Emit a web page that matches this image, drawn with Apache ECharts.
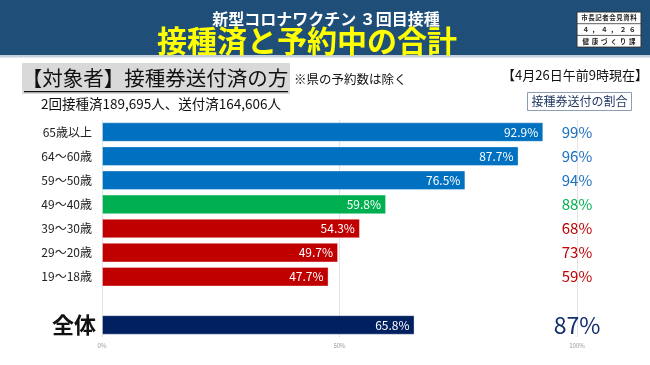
<!DOCTYPE html>
<html><head><meta charset="utf-8">
<script src="https://cdn.jsdelivr.net/npm/echarts@6/dist/echarts.min.js"></script>
<style>html,body{margin:0;padding:0;background:#fff}#c{width:650px;height:365px}</style>
</head><body><div id="c"></div>
<script>
// ---- data ----
var categories = ['65歳以上','64～60歳','59～50歳','49～40歳','39～30歳','29～20歳','19～18歳','','全体'];
var rates = [92.9, 87.7, 76.5, 59.8, 54.3, 49.7, 47.7, null, 65.8];   // 接種済と予約中の合計 (%)
var shares = [99, 96, 94, 88, 68, 73, 59, null, 87];                   // 接種券送付の割合 (%)
var groups = ['blue','blue','blue','green','red','red','red',null,'navy'];
var xTicks = [0, 50, 100];

var FONT = '"Noto Sans CJK JP","Noto Sans",sans-serif';
var barColor = {blue:'#0070C0', green:'#00B050', red:'#C00000', navy:'#002060'};
var shareColor = {blue:'#1A70C2', green:'#00B050', red:'#C00000', navy:'#132F6E'};
var axisMax = xTicks[xTicks.length-1];

var chart = echarts.init(document.getElementById('c'), null, {renderer:'canvas'});

var barData = rates.map(function(v,i){
  if (v === null) return {value:null};
  return {value:v, itemStyle:{color:barColor[groups[i]], borderColor:'rgba(255,255,255,0.35)', borderWidth:1}};
});
var shareData = shares.map(function(v,i){
  if (v === null) return {value:[null,i]};
  var big = groups[i]==='navy';
  return {value:[axisMax,i], share:v,
    label:{color:shareColor[groups[i]], fontSize: big?23:15, fontFamily:FONT, opacity:1}};
});

// stamp box text rows
var stampRows = ['市長記者会見資料','４，４，２６','健康づくり課'];
var stampGraphics = [];
var sx=577, sy=12, sw=64, rh=11.7;
stampGraphics.push({type:'rect', shape:{x:sx,y:sy,width:sw,height:rh*3}, style:{fill:'#fff', stroke:'#333', lineWidth:1}, z:10});
for (var r=0;r<3;r++){
  if (r>0) stampGraphics.push({type:'line', shape:{x1:sx,y1:sy+rh*r,x2:sx+sw,y2:sy+rh*r}, style:{stroke:'#333',lineWidth:0.8}, z:11});
  var chars = Array.from(stampRows[r]);
  var step = (sw-8)/chars.length;
  for (var k=0;k<chars.length;k++){
    stampGraphics.push({type:'text', x:sx+4+step*(k+0.5), y:sy+rh*r+rh/2, z:12,
      style:{text:chars[k], fill:'#222', font:'bold 6.5px '+FONT, align:'center', verticalAlign:'middle'}});
  }
}

var option = {
  animation:false,
  backgroundColor:'#ffffff',
  textStyle:{fontFamily:FONT},
  grid:{left:102, right:73, top:120, bottom:28, containLabel:false},
  xAxis:{type:'value', min:0, max:axisMax, interval:50,
    axisLine:{show:false}, axisTick:{show:false},
    splitLine:{show:true, lineStyle:{color:'#E3E3E3', width:1}},
    axisLabel:{formatter:'{value}%', fontSize:6, color:'#999', margin:6, fontFamily:FONT}},
  yAxis:{type:'category', data:categories, inverse:true,
    axisLine:{show:false}, axisTick:{show:false},
    axisLabel:{margin:10, fontSize:12, color:'#222', fontFamily:FONT,
      formatter:function(v){ return v==='全体' ? '{big|'+v+'}' : v; },
      rich:{big:{fontSize:22, fontWeight:'bold', color:'#111', fontFamily:FONT, padding:[0,-4,0,0]}}}},
  series:[
    {type:'bar', data:barData, barWidth:'81%',
      label:{show:true, position:'insideRight', distance:5, color:'#fff', fontSize:12, fontFamily:FONT,
        formatter:function(p){ return p.value==null?'':p.value.toFixed(1)+'%'; }}},
    {type:'scatter', data:shareData, symbolSize:1, silent:true,
      itemStyle:{opacity:0},
      label:{show:true, position:'inside', fontFamily:FONT,
        formatter:function(p){ return p.data.share==null?'':p.data.share+'%'; }}}
  ],
  graphic:[
    {type:'rect', shape:{x:0,y:0,width:650,height:55}, style:{fill:'#1F4E79'}, z:1},
    {type:'rect', shape:{x:0,y:55,width:650,height:2.5}, style:{fill:'#C5D0DC'}, z:1},
    {type:'text', x:326, y:19, z:5, style:{text:'新型コロナワクチン ３回目接種', fill:'#fff', font:'bold 16px '+FONT, align:'center', verticalAlign:'middle'}},
    {type:'text', x:307, y:41, z:5, style:{text:'接種済と予約中の合計', fill:'#FFFF00', font:'bold 30px '+FONT, align:'center', verticalAlign:'middle'}},
    {type:'rect', shape:{x:22,y:63,width:268,height:31}, style:{fill:'#D9D9D9'}, z:1},
    {type:'text', x:155, y:78, z:5, style:{text:'【対象者】接種券送付済の方', fill:'#111', font:'20.5px '+FONT, align:'center', verticalAlign:'middle'}},
    {type:'rect', shape:{x:24,y:91,width:264,height:1.3}, style:{fill:'#111'}, z:5},
    {type:'text', x:294, y:79, z:5, style:{text:'※県の予約数は除く', fill:'#111', font:'12.5px '+FONT, align:'left', verticalAlign:'middle'}},
    {type:'text', x:161, y:104, z:5, style:{text:'2回接種済189,695人、送付済164,606人', fill:'#111', font:'13.5px '+FONT, align:'center', verticalAlign:'middle'}},
    {type:'text', x:575, y:75, z:5, style:{text:'【4月26日午前9時現在】', fill:'#111', font:'13px '+FONT, align:'center', verticalAlign:'middle'}},
    {type:'rect', shape:{x:527.5,y:92.5,width:104,height:18}, style:{fill:'#fff', stroke:'#8C9DB5', lineWidth:1}, z:4},
    {type:'text', x:579.5, y:101.5, z:5, style:{text:'接種券送付の割合', fill:'#1F3864', font:'12px '+FONT, align:'center', verticalAlign:'middle'}}
  ].concat(stampGraphics)
};
chart.setOption(option);
</script>
</body></html>
